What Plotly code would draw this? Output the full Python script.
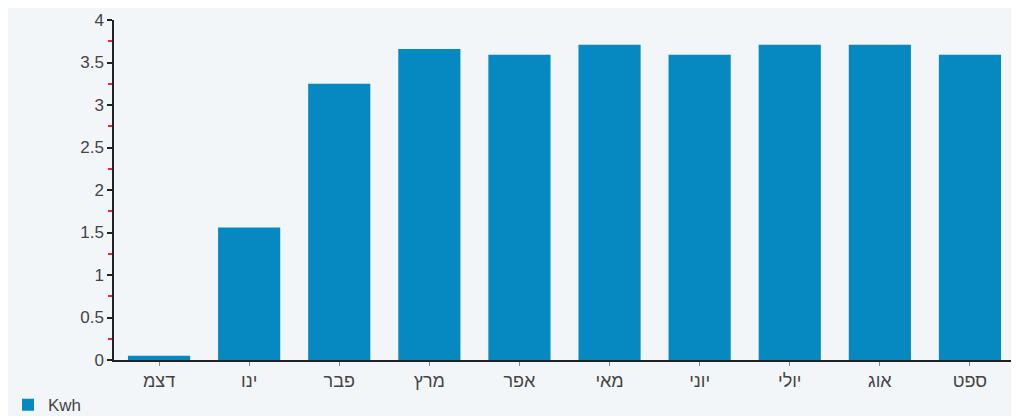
import plotly.graph_objects as go

months = ["דצמ", "ינו", "פבר", "מרץ", "אפר", "מאי", "יוני", "יולי", "אוג", "ספט"]
kwh = [0.05, 1.56, 3.25, 3.66, 3.59, 3.71, 3.59, 3.71, 3.71, 3.59]
series_name = "Kwh"
y_ticks = [0, 0.5, 1, 1.5, 2, 2.5, 3, 3.5, 4]
y_tick_labels = ["0", "0.5", "1", "1.5", "2", "2.5", "3", "3.5", "4"]

fig = go.Figure()
fig.add_trace(go.Bar(x=months, y=kwh, name=series_name, marker_color="#0688c0",
                     marker_line_width=0, showlegend=True))

fig.update_layout(
    width=1019, height=416,
    margin=dict(l=106, r=12, t=12, b=64, autoexpand=False),
    paper_bgcolor="#f3f6f9", plot_bgcolor="#f3f6f9",
    bargap=0.31,
    font=dict(family="Liberation Sans, Arial, sans-serif", size=17, color="#444"),
    showlegend=True,
    legend=dict(orientation="h", xref="container", yref="container", x=-0.021, y=0.045,
                xanchor="left", yanchor="middle", font=dict(size=17, color="#444"),
                bgcolor="rgba(0,0,0,0)", itemwidth=30, tracegroupgap=0),
)
fig.update_xaxes(showline=True, linecolor="#222", linewidth=1.5, ticks="outside",
                 ticklen=4, tickcolor="#888", showgrid=False, zeroline=False,
                 tickfont=dict(size=18), automargin=False)
fig.update_yaxes(range=[0, 4], tickvals=y_ticks, ticktext=y_tick_labels, showline=True,
                 linecolor="#222", linewidth=1.5, ticks="outside", ticklen=5, tickwidth=1.5,
                 tickcolor="#222", showgrid=False, zeroline=False, automargin=False,
                 minor=dict(dtick=0.25, ticks="outside", ticklen=4, tickwidth=1.5,
                            tickcolor="#ee2a2a"))

fig.write_html("out.html")
